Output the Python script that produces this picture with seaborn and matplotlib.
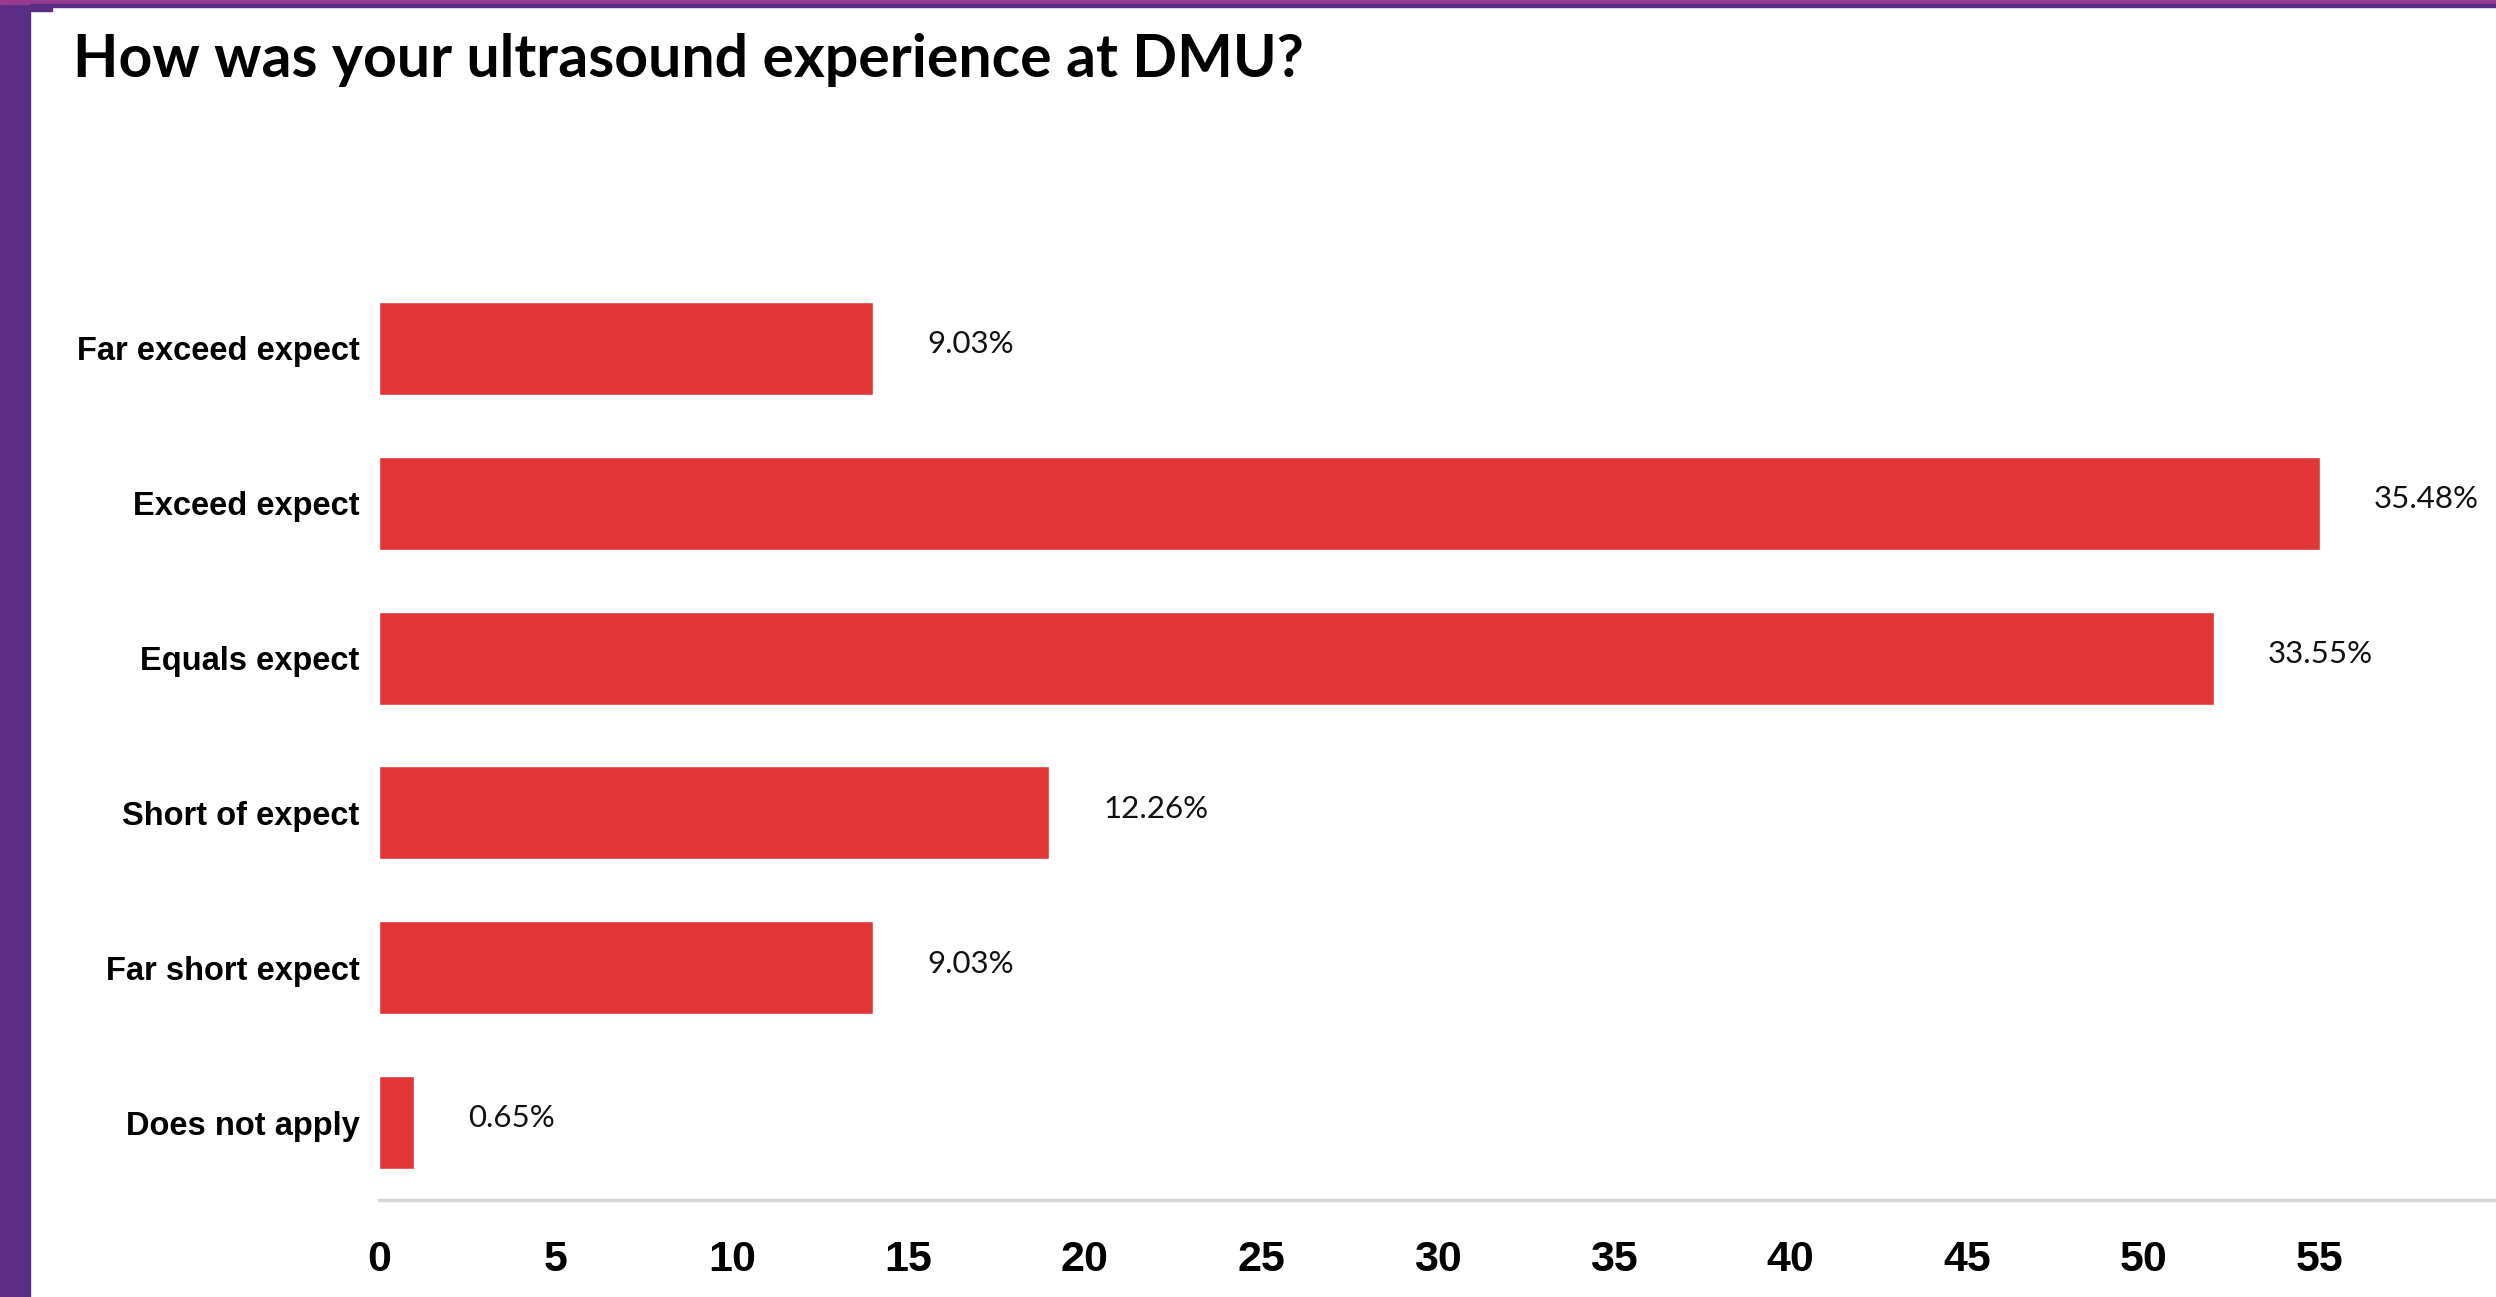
import matplotlib
matplotlib.use("Agg")
import matplotlib.pyplot as plt
import seaborn as sns
from matplotlib.patches import Rectangle

# survey responses (counts); percentages are computed from these
categories = ['Far exceed expect', 'Exceed expect', 'Equals expect',
              'Short of expect', 'Far short expect', 'Does not apply']
counts = [14, 55, 52, 19, 14, 1]
x_ticks = [0, 5, 10, 15, 20, 25, 30, 35, 40, 45, 50, 55]
title = 'How was your ultrasound experience at DMU?'

BAR = '#E23636'
PURPLE = '#5B2C83'
MAGENTA = '#963A8F'
LABEL_FONT = ['Liberation Sans', 'DejaVu Sans']

sns.set_style('white')
plt.rcParams['text.color'] = 'black'
plt.rcParams['xtick.color'] = 'black'
plt.rcParams['ytick.color'] = 'black'

W, H = 2496, 1297
fig = plt.figure(figsize=(W / 100, H / 100), dpi=100)
fig.patch.set_facecolor('white')

# slide frame: purple strip on the left and along the top
fig.add_artist(Rectangle((0, 0), 30 / W, 1, transform=fig.transFigure,
                         color=PURPLE, zorder=0))
fig.add_artist(Rectangle((0, 1 - 4 / H), 1, 4 / H, transform=fig.transFigure,
                         color=MAGENTA, zorder=0))
fig.add_artist(Rectangle((30 / W, 1 - 7 / H), 1, 3 / H, transform=fig.transFigure,
                         color=PURPLE, zorder=0))
fig.add_artist(Rectangle((20 / W, 1 - 11 / H), 32 / W, 4 / H, transform=fig.transFigure,
                         color=PURPLE, zorder=0))

fig.text(73 / W, 1 - 60 / H, title, fontsize=42.5, fontweight='bold',
         family=['Lato', 'DejaVu Sans'], va='center', ha='left', color='black')

left, right, bottom, top = 379, 2496, 1200, 271
ax = fig.add_axes([left / W, 1 - bottom / H, (right - left) / W, (bottom - top) / H])

total = sum(counts)
sns.barplot(x=counts, y=categories, orient='h', color=BAR, saturation=1,
            width=0.6, ax=ax)

ax.set_xlim(0, 60)
ax.set_ylim(5.5, -0.5)
ax.set_xlabel('')
ax.set_ylabel('')

for i, c in enumerate(counts):
    pct = c / total * 100
    ax.annotate(f'{pct:.2f}%', xy=(c, i), xytext=(39, 3), textcoords='offset points',
                ha='left', va='center', fontsize=22.5, family=['Lato', 'DejaVu Sans'],
                color='#111111', annotation_clip=False)

for s in ['top', 'right', 'left']:
    ax.spines[s].set_visible(False)
ax.spines['bottom'].set_color('#D6D6D6')
ax.spines['bottom'].set_linewidth(2.5)

ax.set_xticks(x_ticks)
ax.set_xticklabels([str(t) for t in x_ticks], fontsize=31, fontweight='bold',
                   family=LABEL_FONT, color='black')
ax.tick_params(axis='x', length=9, width=1.2, color='#CFCFCF', pad=20)

ax.set_yticks(range(len(categories)))
ax.set_yticklabels(categories, fontsize=23.5, fontweight='bold', family=LABEL_FONT,
                   color='black')
ax.tick_params(axis='y', length=0, pad=14)
ax.set_yticks([i - 0.5 for i in range(len(categories))], minor=True)
ax.tick_params(axis='y', which='minor', length=6, width=1.2, color='#CFCFCF')

fig.savefig('out.png', dpi=100, facecolor='white')
